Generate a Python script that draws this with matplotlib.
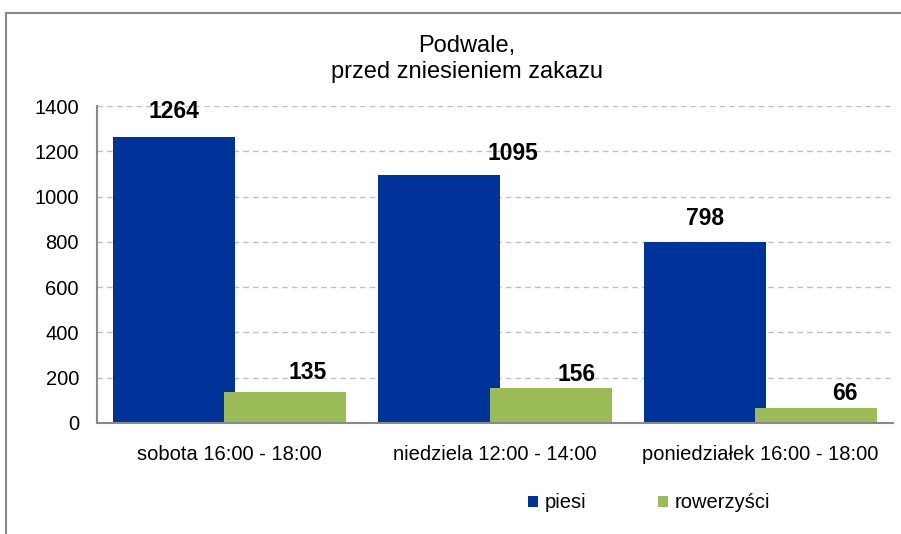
import matplotlib
matplotlib.use("Agg")
import matplotlib.pyplot as plt
from matplotlib.patches import Rectangle
import numpy as np

plt.rcParams['font.family'] = ['Liberation Sans', 'DejaVu Sans']

categories = ["sobota 16:00 - 18:00", "niedziela 12:00 - 14:00", "poniedziałek 16:00 - 18:00"]
series_names = ["piesi", "rowerzyści"]
piesi = [1264, 1095, 798]
rowerzysci = [135, 156, 66]
yticks = [0, 200, 400, 600, 800, 1000, 1200, 1400]
title = "Podwale,\nprzed zniesieniem zakazu"

blue = "#003399"
green = "#9BBB59"

W, H = 901, 534
fig = plt.figure(figsize=(W / 100, H / 100), dpi=100)
ax = fig.add_axes([97 / W, (H - 423) / H, (893 - 97) / W, (423 - 106) / H])

x = np.arange(len(categories))
bw = 0.46
off = 0.21
b1 = ax.bar(x - off, piesi, bw, color=blue, zorder=3, label=series_names[0])
b2 = ax.bar(x + off, rowerzysci, bw, color=green, zorder=4, label=series_names[1])

ax.set_xlim(-0.5, len(categories) - 0.5)
ax.set_ylim(0, 1400)
ax.set_yticks(yticks)
ax.set_xticks(x)
ax.set_xticklabels(categories)
ax.tick_params(axis='both', length=0, labelsize=14.5)
ax.tick_params(axis='y', pad=13)
ax.tick_params(axis='x', pad=16)

ax.grid(axis='y', color='#BFBFBF', linestyle=(0, (4, 3)), linewidth=1, zorder=0)
for s in ['top', 'right']:
    ax.spines[s].set_visible(False)
for s in ['left', 'bottom']:
    ax.spines[s].set_color('#898989')
    ax.spines[s].set_linewidth(1.5)
    ax.spines[s].set_zorder(5)

# data labels (offsets in pixels -> points)
blue_dx = [0, 74, 0]
blue_dy = [25, 22, 24]
green_dx = [22, 26, 29]
green_dy = [20, 13, 15]
for rect, v, dx, dy in zip(b1, piesi, blue_dx, blue_dy):
    ax.annotate(str(v), (rect.get_x() + rect.get_width() / 2, v),
                xytext=(dx * 0.72, dy * 0.72), textcoords='offset points',
                ha='center', va='center', fontsize=16.5, fontweight='bold', zorder=6)
for rect, v, dx, dy in zip(b2, rowerzysci, green_dx, green_dy):
    ax.annotate(str(v), (rect.get_x() + rect.get_width() / 2, v),
                xytext=(dx * 0.72, dy * 0.72), textcoords='offset points',
                ha='center', va='center', fontsize=16.5, fontweight='bold', zorder=6)

fig.text(467 / W, 1 - 59 / H, title, ha='center', va='center', fontsize=17,
         linespacing=1.2)

fig.legend(handles=[b1, b2], labels=series_names, ncol=2, frameon=False,
           loc='center', bbox_to_anchor=(649 / W, 1 - 503 / H),
           fontsize=14.5, handlelength=0.5, handleheight=0.5,
           handletextpad=0.3, columnspacing=3.6)

frame = Rectangle((6 / W, -0.1), 2, 1 - 13 / H + 0.1, transform=fig.transFigure,
                  facecolor='none', edgecolor='#898989', linewidth=1.5, clip_on=False)
fig.patches.append(frame)

fig.savefig("out.png", dpi=100)
